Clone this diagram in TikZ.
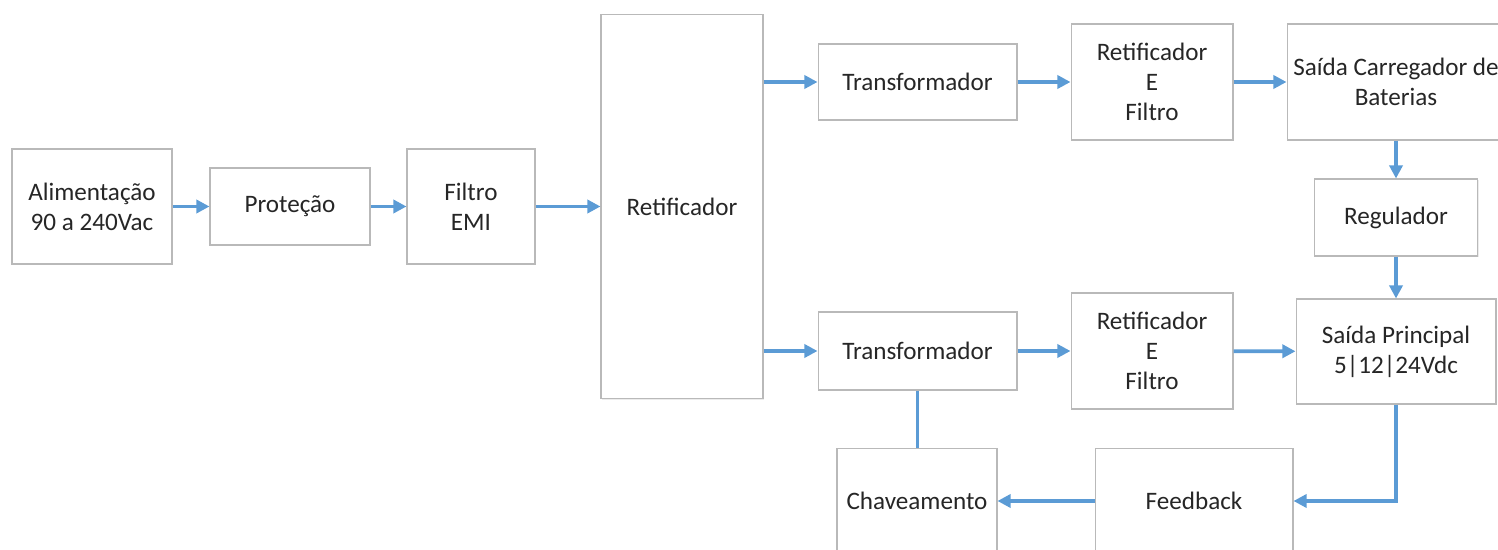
\documentclass[tikz,border=0pt]{standalone}
\usepackage{fontspec}
\setmainfont{Carlito}
\usetikzlibrary{arrows.meta,shadows}
\definecolor{fluxo}{RGB}{91,155,213}
\definecolor{borda}{RGB}{185,185,185}

\begin{document}
\begin{tikzpicture}[x=0.02cm, y=-0.02cm,
  bloco/.style={draw=borda, line width=0.6pt, fill=white, align=center, text=black!85,
    font=\fontsize{14.3}{17}\selectfont, inner sep=0pt,
    drop shadow={shadow xshift=0.7pt, shadow yshift=-0.7pt, opacity=0.15}},
  seta/.style={draw=fluxo, line width=2.1pt, -{Triangle[length=7.5pt,width=7.5pt]}},
  liga/.style={draw=fluxo, line width=2.1pt}]
\useasboundingbox (0,0) rectangle (1498,550);
\clip (0,0) rectangle (1498,550);
% entrada
\node[bloco, minimum width=3.2cm, minimum height=2.3cm] (alim) at (92,206.5) {Alimentação\\90 a 240Vac};
\node[bloco, minimum width=3.2cm, minimum height=1.54cm] (prot) at (290,206.5) {Proteção};
\node[bloco, minimum width=2.56cm, minimum height=2.3cm] (emi) at (471,206.5) {Filtro\\EMI};
\node[bloco, minimum width=3.24cm, minimum height=7.7cm] (ret) at (682,206.5) {Retificador};
% ramo de cima
\node[bloco, minimum width=3.98cm, minimum height=1.52cm] (trA) at (917.5,82) {Transformador};
\node[bloco, minimum width=3.24cm, minimum height=2.32cm] (rfA) at (1152,82) {Retificador\\E\\Filtro};
\node[bloco, minimum width=4.36cm, minimum height=2.32cm] (carr) at (1396,82) {Saída Carregador de\\Baterias};
\node[bloco, minimum width=3.26cm, minimum height=1.54cm] (reg) at (1396,217.5) {Regulador};
% ramo de baixo
\node[bloco, minimum width=3.98cm, minimum height=1.56cm] (trB) at (917.5,351) {Transformador};
\node[bloco, minimum width=3.24cm, minimum height=2.32cm] (rfB) at (1152,351) {Retificador\\E\\Filtro};
\node[bloco, minimum width=4.0cm, minimum height=2.1cm] (princ) at (1396,351.5) {Saída Principal\\5|12|24Vdc};
\node[bloco, minimum width=3.2cm, minimum height=2.1cm] (chav) at (917,501) {Chaveamento};
\node[bloco, minimum width=3.96cm, minimum height=2.1cm] (feed) at (1194,501) {Feedback};
% ligacoes
\draw[seta] (alim) -- (prot);
\draw[seta] (prot) -- (emi);
\draw[seta] (emi) -- (ret);
\draw[seta] (ret.east |- trA.west) -- (trA);
\draw[seta] (trA) -- (rfA);
\draw[seta] (rfA) -- (carr);
\draw[seta] (carr) -- (reg);
\draw[seta] (reg) -- (princ);
\draw[seta] (ret.east |- trB.west) -- (trB);
\draw[seta] (trB) -- (rfB);
\draw[seta] (rfB) -- (princ);
\draw[seta] (princ.south) |- (feed.east);
\draw[seta] (feed) -- (chav);
\draw[liga] (trB.south) -- (chav.north -| trB.south);
\end{tikzpicture}
\end{document}
